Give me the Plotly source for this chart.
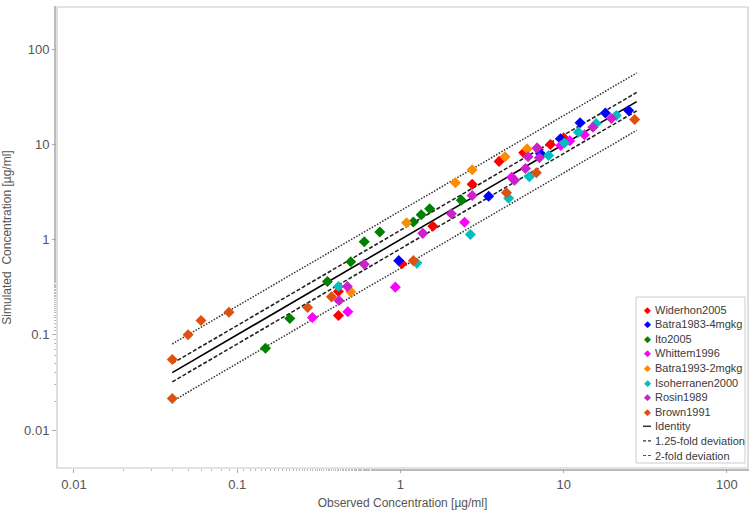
import plotly.graph_objects as go

# ---- data (observed, simulated) ----
widerhon_obs = [0.417, 0.417, 1.02, 1.58, 2.75, 4.02, 5.69, 7.0, 8.29, 10.0]
widerhon_sim = [0.284, 0.159, 0.556, 1.38, 3.81, 6.61, 8.14, 8.8, 9.94, 11.7]

batra83_obs = [0.976, 3.47, 7.2, 9.55, 12.6, 18.0, 25.0]
batra83_sim = [0.60, 2.85, 8.0, 11.4, 16.8, 21.3, 22.6]

ito_obs = [0.149, 0.21, 0.357, 0.496, 0.60, 0.747, 1.2, 1.34, 1.51, 2.36]
ito_sim = [0.072, 0.148, 0.362, 0.583, 0.946, 1.2, 1.53, 1.82, 2.1, 2.59]

whittem_obs = [0.289, 0.476, 0.93, 2.47, 4.8, 9.6, 10.9, 13.4]
whittem_sim = [0.152, 0.174, 0.316, 1.52, 4.5, 9.7, 10.9, 12.6]

batra93_obs = [0.496, 1.09, 2.17, 2.75, 4.37, 5.97]
batra93_sim = [0.282, 1.5, 3.94, 5.39, 7.38, 8.94]

isoh_obs = [0.417, 1.26, 2.68, 4.6, 6.16, 8.09, 10.1, 12.3, 15.8, 21.0]
isoh_sim = [0.321, 0.565, 1.13, 2.71, 4.55, 7.62, 10.3, 13.4, 16.5, 20.0]

rosin_obs = [0.42, 0.473, 0.60, 1.37, 2.05, 2.75, 5.0, 5.83, 6.05, 6.87, 7.1, 15.1, 19.6]
rosin_sim = [0.229, 0.321, 0.55, 1.16, 1.86, 2.9, 4.2, 5.56, 7.38, 9.16, 7.2, 15.1, 18.6]

brown_obs = [0.04, 0.04, 0.05, 0.06, 0.089, 0.27, 0.378, 1.2, 4.46, 6.8, 27.2]
brown_sim = [0.055, 0.0214, 0.10, 0.141, 0.172, 0.193, 0.25, 0.60, 3.09, 5.01, 18.2]

line_x = [0.04, 28]
fold_125 = 1.25
fold_2 = 2.0

x_tickvals = [0.01, 0.1, 1, 10, 100]
x_ticktext = ["0.01", "0.1", "1", "10", "100"]
y_tickvals = [0.01, 0.1, 1, 10, 100]
y_ticktext = ["0.01", "0.1", "1", "10", "100"]

series_names = ["Widerhon2005", "Batra1983-4mgkg", "Ito2005", "Whittem1996",
                "Batra1993-2mgkg", "Isoherranen2000", "Rosin1989", "Brown1991"]
series_obs = [widerhon_obs, batra83_obs, ito_obs, whittem_obs, batra93_obs, isoh_obs, rosin_obs, brown_obs]
series_sim = [widerhon_sim, batra83_sim, ito_sim, whittem_sim, batra93_sim, isoh_sim, rosin_sim, brown_sim]
series_colors = ["#FF0000", "#0000FF", "#008000", "#FF00FF", "#FF8C00", "#00BFBF", "#CC22CC", "#E0500F"]

line_names = ["Identity", "1.25-fold deviation", "2-fold deviation"]

FONT = "Liberation Sans, Arial, sans-serif"

# plot-area geometry in pixels (for placing the hand-built legend)
W, H = 756, 514
ML, MR, MT, MB = 57, 8, 7, 46
PW, PH = W - ML - MR, H - MT - MB


def px(xp):
    return (xp - ML) / PW


def py(yp):
    return (H - MB - yp) / PH


fig = go.Figure()

solid = dict(color="black", width=1.6)
dashed = dict(color="#222222", width=1.6, dash="4px,2px")
dotted = dict(color="#333333", width=1.5, dash="1.5px,1.5px")

fig.add_trace(go.Scatter(x=line_x, y=[v for v in line_x], mode="lines", line=solid))
for f in (fold_125, 1 / fold_125):
    fig.add_trace(go.Scatter(x=line_x, y=[v * f for v in line_x], mode="lines", line=dashed))
for f in (fold_2, 1 / fold_2):
    fig.add_trace(go.Scatter(x=line_x, y=[v * f for v in line_x], mode="lines", line=dotted))

for name, xo, ys, col in zip(series_names, series_obs, series_sim, series_colors):
    fig.add_trace(go.Scatter(x=xo, y=ys, mode="markers", name=name,
                             marker=dict(symbol="diamond", size=8.5, color=col, line=dict(width=0))))

# ---- hand-built legend (compact like the reference) ----
annotations = []
shapes = [dict(type="rect", xref="paper", yref="paper", x0=0, y0=0, x1=1, y1=1,
               line=dict(color="#c8c8c8", width=1.2), layer="above"),
          dict(type="rect", xref="paper", yref="paper", x0=px(636), x1=px(745),
               y0=py(463), y1=py(297), line=dict(color="#cccccc", width=1),
               fillcolor="white", layer="above")]
row0, step = 309.5, 14.6
mark_x, text_x = 647, 653
labels = series_names + line_names
legend_line_styles = [dict(color="#333333", width=1.5),
                      dict(color="#333333", width=1.3, dash="3px,2px"),
                      dict(color="#555555", width=1.0, dash="3px,2px")]
for i, lab in enumerate(labels):
    yc = row0 + i * step
    annotations.append(dict(x=px(text_x), y=py(yc), xref="paper", yref="paper",
                            text=lab, showarrow=False, xanchor="left", yanchor="middle",
                            font=dict(family=FONT, size=11, color="#3a3a3a")))
    if i < len(series_names):
        annotations.append(dict(x=px(mark_x), y=py(yc), xref="paper", yref="paper",
                                text="◆", showarrow=False, xanchor="center", yanchor="middle",
                                font=dict(family="DejaVu Sans", size=9, color=series_colors[i])))
    else:
        shapes.append(dict(type="line", xref="paper", yref="paper",
                           x0=px(643), x1=px(651), y0=py(yc), y1=py(yc),
                           line=legend_line_styles[i - len(series_names)], layer="above"))

axis_common = dict(
    type="log", showgrid=False, zeroline=False, showline=False,
    ticks="outside", ticklen=4, tickcolor="#aaaaaa",
    tickfont=dict(family=FONT, size=13, color="#555555"),
    minor=dict(ticks="outside", ticklen=2, tickcolor="#bbbbbb"),
)

fig.update_layout(
    width=W, height=H,
    margin=dict(l=ML, r=MR, t=MT, b=MB),
    paper_bgcolor="white", plot_bgcolor="white",
    showlegend=False,
    xaxis=dict(range=[-2.104, 2.129], tickvals=x_tickvals, ticktext=x_ticktext,
               title=dict(text="Observed Concentration [µg/ml]", standoff=8,
                          font=dict(family=FONT, size=12, color="#555555")),
               **axis_common),
    yaxis=dict(range=[-2.399, 2.441], tickvals=y_tickvals, ticktext=y_ticktext,
               title=dict(text="Simulated  Concentration [µg/ml]", standoff=10,
                          font=dict(family=FONT, size=12, color="#555555")),
               **axis_common),
    shapes=shapes,
    annotations=annotations,
)

fig.write_html("out.html")
